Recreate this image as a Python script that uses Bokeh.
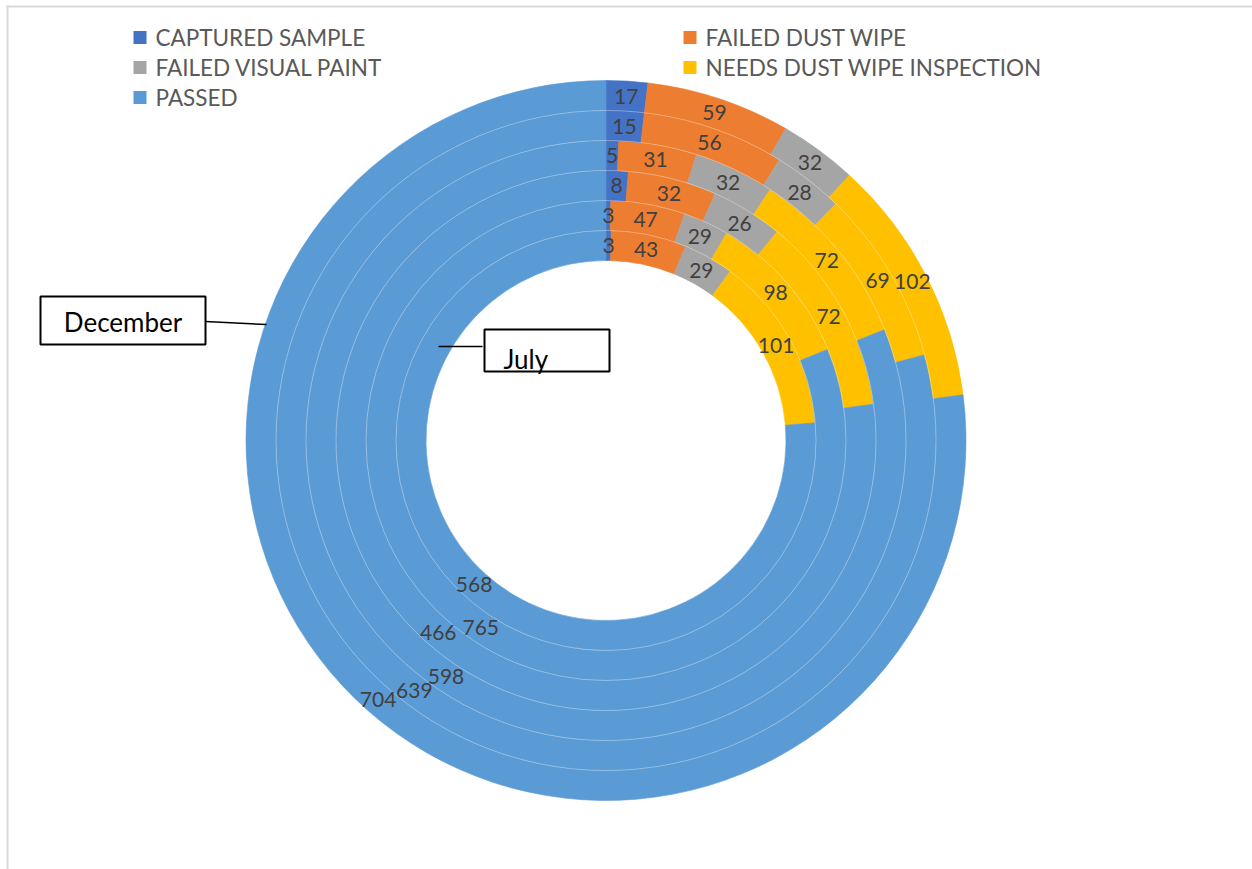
import numpy as np
from bokeh.plotting import figure
from bokeh.models import Range1d, ColumnDataSource
from bokeh.core.properties import value
from bokeh.embed import file_html
from bokeh.resources import INLINE

# Monthly inspection outcomes, one ring per month (July innermost, December outermost)
months = ["July", "August", "September", "October", "November", "December"]
categories = ["CAPTURED SAMPLE", "FAILED DUST WIPE", "FAILED VISUAL PAINT",
              "NEEDS DUST WIPE INSPECTION", "PASSED"]
captured = [3, 3, 8, 5, 15, 17]
failed_dust_wipe = [43, 47, 32, 31, 56, 59]
failed_visual_paint = [29, 29, 26, 32, 28, 32]
needs_dust_wipe = [101, 98, 72, 72, 69, 102]
passed = [568, 765, 466, 598, 639, 704]

colors = ["#4472C4", "#ED7D31", "#A5A5A5", "#FFC000", "#5B9BD5"]

W, H = 1252, 869
CX, CY = 605.5, H - 440.0
R_IN, RING_W = 180.0, 30.0
FONT = value("Lato")

p = figure(width=W, height=H, x_range=Range1d(0, W), y_range=Range1d(0, H),
           x_axis_type=None, y_axis_type=None, toolbar_location=None,
           output_backend="svg", min_border=0, outline_line_color=None,
           background_fill_color="white", border_fill_color="white")
p.grid.visible = False

series = [captured, failed_dust_wipe, failed_visual_paint, needs_dust_wipe, passed]

wx, wy, wir, wor, wsa, wea, wcol = [], [], [], [], [], [], []
lx, ly, lt = [], [], []
for i, month in enumerate(months):
    vals = [s[i] for s in series]
    total = float(sum(vals))
    ir = R_IN + i * RING_W
    orad = ir + RING_W
    cum = 0.0
    for j, v in enumerate(vals):
        a0 = cum / total
        a1 = (cum + v) / total
        cum += v
        sa = np.pi / 2 - 2 * np.pi * a0
        ea = np.pi / 2 - 2 * np.pi * a1
        wx.append(CX); wy.append(CY); wir.append(ir); wor.append(orad)
        wsa.append(sa); wea.append(ea); wcol.append(colors[j])
        mid = (sa + ea) / 2
        rm = (ir + orad) / 2
        lx.append(CX + rm * np.cos(mid)); ly.append(CY + rm * np.sin(mid))
        lt.append(str(v))

wedges = ColumnDataSource(dict(x=wx, y=wy, ir=wir, orad=wor, sa=wsa, ea=wea, color=wcol))
p.annular_wedge(x="x", y="y", inner_radius="ir", outer_radius="orad",
                start_angle="sa", end_angle="ea", direction="clock",
                fill_color="color", line_color="color", line_width=0.6, source=wedges)

# faint white seams between the rings
seam_r = [R_IN + k * RING_W for k in range(1, len(months))]
p.arc(x=[CX] * len(seam_r), y=[CY] * len(seam_r), radius=seam_r,
      start_angle=0, end_angle=2 * np.pi, line_color="white", line_alpha=0.45,
      line_width=0.7)

labels = ColumnDataSource(dict(x=lx, y=ly, t=lt))
p.text(x="x", y="y", text="t", source=labels, text_align="center",
       text_baseline="middle", text_font=FONT, text_font_size="21px",
       text_color="#404040")

# legend, two columns
leg_x = [139.5, 689.5, 139.5, 689.5, 139.5]
leg_y = [H - 37, H - 37, H - 67, H - 67, H - 97]
p.rect(x=leg_x, y=leg_y, width=13, height=13, fill_color=colors, line_color=None)
p.text(x=[x + 15.5 for x in leg_x], y=leg_y, text=categories, text_align="left",
       text_baseline="middle", text_font=FONT, text_font_size="22.5px",
       text_color="#595959")

# callout boxes naming the outer and inner rings
p.quad(left=[40, 484], right=[205, 609], top=[H - 296, H - 329],
       bottom=[H - 344, H - 371], fill_color="white", line_color="black",
       line_width=2)
p.segment(x0=[205, 438], y0=[H - 321, H - 346], x1=[266, 482], y1=[H - 324, H - 346],
          line_color="black", line_width=1.5)
p.text(x=[122.5], y=[H - 321], text=[months[-1]],
       text_align="center", text_baseline="middle", text_font=FONT,
       text_font_size="26px", text_color="black")
p.text(x=[503], y=[H - 358], text=[months[0]],
       text_align="left", text_baseline="middle", text_font=FONT,
       text_font_size="26px", text_color="black")

# chart area border
p.segment(x0=[6, 7], y0=[H - 6, H - 5], x1=[W, 7], y1=[H - 6, 0],
          line_color="#d9d9d9", line_width=2)

open("out.html", "w").write(file_html(p, INLINE))
